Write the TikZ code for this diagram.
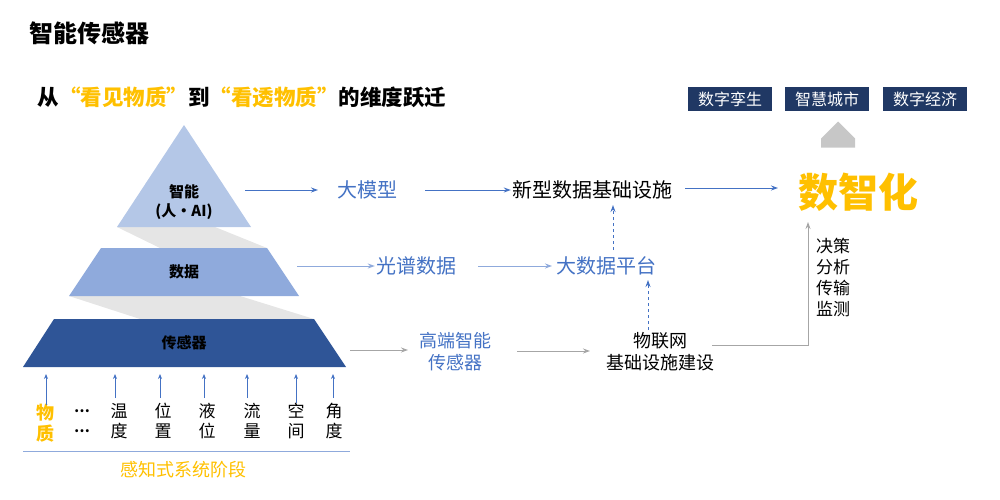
\documentclass[tikz,border=0pt]{standalone}
\usepackage{fontspec}
\setmainfont{Noto Sans CJK SC}
\usetikzlibrary{arrows.meta,shapes.arrows}
\definecolor{tblue}{HTML}{4472C4}
\definecolor{lblue}{HTML}{8FAADC}
\definecolor{pal}{HTML}{B4C7E7}
\definecolor{dkb}{HTML}{2F5597}
\definecolor{navy}{HTML}{203864}
\definecolor{org}{HTML}{FFC000}
\definecolor{gry}{HTML}{A6A6A6}
\tikzset{
 lbl/.style={font=\fontsize{20}{22}\selectfont,text=tblue,inner sep=1pt,align=center},
 blk/.style={font=\fontsize{20}{22}\selectfont,text=black,inner sep=1pt,align=center},
 arr/.style={-{Stealth[length=7pt,width=5pt]},line width=1pt,draw=tblue},
 garr/.style={-{Stealth[length=7pt,width=5pt]},line width=1pt,draw=gry},
 darr/.style={-{Stealth[length=7pt,width=5pt]},line width=1pt,draw=tblue,dashed},
 sm/.style={font=\fontsize{17}{20}\selectfont,align=center,inner sep=0pt},
 navybox/.style={fill=navy,text=white,font=\fontsize{16}{18}\selectfont,minimum width=84pt,minimum height=24pt,inner sep=0pt},
 upa/.style={-{Stealth[length=5pt,width=4pt]},line width=0.8pt,draw=tblue}
}
\begin{document}
\begin{tikzpicture}[x=1pt,y=-1pt]
\useasboundingbox (0,0) rectangle (1000,500);
\node[anchor=west,font=\bfseries\fontsize{24}{28}\selectfont] (title) at (26,33) {智能传感器};
\node[anchor=west,font=\bfseries\fontsize{21.5}{26}\selectfont] (sub) at (34,97) {从\textcolor{org}{“看见物质”}到\textcolor{org}{“看透物质”}的维度跃迁};
% pyramid
\fill[black!10] (117,227)--(215,227)--(267,248)--(160,248)--cycle;
\fill[black!10] (69,296)--(240,296)--(314,319)--(140,319)--cycle;
\fill[pal] (184,125)--(251,227)--(117,227)--cycle;
\fill[lblue] (101,248)--(267,248)--(299,296)--(69,296)--cycle;
\fill[dkb] (54,319)--(314,319)--(346,367)--(23,367)--cycle;
\node[font=\bfseries\fontsize{15}{19}\selectfont,align=center] (p1) at (184,202) {智能\\(人•AI)};
\node[font=\bfseries\fontsize{15}{18}\selectfont] (p2) at (184,272) {数据};
\node[font=\bfseries\fontsize{15}{18}\selectfont] (p3) at (184,343) {传感器};
\coordinate (p1e) at (245,190);
\coordinate (p2e) at (297,266);
\coordinate (p3e) at (350,350);
% inputs
\node[sm,text=org,font=\bfseries\fontsize{18}{21}\selectfont] (i0) at (45,423) {物\\质};
\node[sm,font=\bfseries\fontsize{14}{20}\selectfont] (i1) at (82,421) {…\\…};
\node[sm] (i2) at (119,421) {温\\度};
\node[sm] (i3) at (163,421) {位\\置};
\node[sm] (i4) at (207,421) {液\\位};
\node[sm] (i5) at (252,421) {流\\量};
\node[sm] (i6) at (296,421) {空\\间};
\node[sm] (i7) at (334,421) {角\\度};
\foreach \n/\x/\y in {i0/46/405,i2/115/398,i3/160/398,i4/204/398,i5/247/398,i6/296/403,i7/333/398}{
 \coordinate (t\n) at (\x,374);
 \coordinate (b\n) at (\x,\y);
 \draw[upa] (b\n)--(t\n);}
\draw[lblue,line width=1pt] (23,451)--(350,451);
\node[font=\fontsize{18}{20}\selectfont,text=org] (stage) at (183,470) {感知式系统阶段};
% flow
\node[lbl] (dm) at (367,190) {大模型};
\node[blk] (xx) at (592,190) {新型数据基础设施};
\node[lbl] (gp) at (416,266) {光谱数据};
\node[lbl] (dsj) at (606,266) {大数据平台};
\node[lbl,font=\fontsize{18}{22}\selectfont] (gd) at (455,352) {高端智能\\传感器};
\node[blk,font=\fontsize{18}{22}\selectfont] (wl) at (660,352) {物联网\\基础设施建设};
\node[font=\bfseries\fontsize{40}{44}\selectfont,text=org] (szh) at (858,192) {数智化};
\node[blk,font=\fontsize{17}{21}\selectfont,anchor=north west] (jc) at (815,237) {决策\\分析\\传输\\监测};
\node[navybox] (b1) at (730,99) {数字孪生};
\node[navybox] (b2) at (827,99) {智慧城市};
\node[navybox] (b3) at (925,99) {数字经济};
\node[single arrow,fill=black!22,draw=none,shape border rotate=90,minimum height=26pt,minimum width=34pt,single arrow head extend=0pt,inner sep=0pt] (ua) at (838,143) {};
\coordinate (a1) at (318,190);
\coordinate (a2) at (425,190);
\coordinate (a3) at (685,188);
\coordinate (a4) at (778,188);
\coordinate (a5) at (478,266);
\coordinate (a6) at (552,266);
\coordinate (d1) at (613,250);
\coordinate (d2) at (613,205);
\coordinate (d3) at (648,330);
\coordinate (d4) at (648,280);
\coordinate (g1) at (408,350);
\coordinate (g2) at (517,351);
\coordinate (g3) at (590,351);
\coordinate (g4) at (712,345);
\coordinate (g5) at (808,345);
\coordinate (g6) at (808,222);
\draw[arr] (p1e)--(a1);
\draw[arr] (a2)--(xx.west);
\draw[arr] (a3)--(a4);
\draw[arr,draw=lblue] (p2e)--(gp.west);
\draw[arr,draw=lblue] (a5)--(a6);
\draw[darr] (d1)--(d2);
\draw[darr] (d3)--(d4);
\draw[garr] (p3e)--(g1);
\draw[garr] (g2)--(g3);
\draw[garr] (g4)--(g5)--(g6);
\end{tikzpicture}
\end{document}
